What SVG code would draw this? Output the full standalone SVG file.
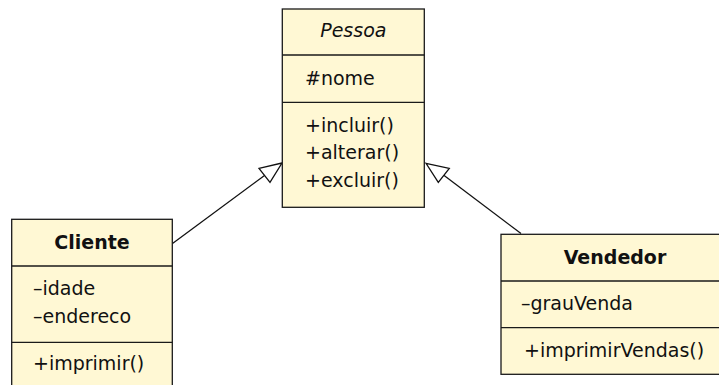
<svg xmlns="http://www.w3.org/2000/svg" width="719" height="385" viewBox="0 0 719 385">
<style>
.box{fill:#FFF8D4;stroke:#1a1a1a;stroke-width:1.3}
.sep{stroke:#1a1a1a;stroke-width:1.3}
text{font-family:"DejaVu Sans","Liberation Sans",sans-serif;font-size:19px;fill:#111}
.t{text-anchor:middle}
.b{font-weight:bold}
.i{font-style:italic}
.edge{fill:none;stroke:#111;stroke-width:1.3}
.head{fill:#fff;stroke:#111;stroke-width:1.3;stroke-linejoin:miter}
</style>
<rect width="719" height="385" fill="#fff"/>
<g id="connectors">
<line class="edge" x1="172.5" y1="243.5" x2="264.5" y2="175.5"/>
<polygon class="head" points="282,163 259,168.3 270,182.3"/>
<line class="edge" x1="521" y1="233.5" x2="443.8" y2="175.3"/>
<polygon class="head" points="426,163.3 449.3,168.3 438.3,182.3"/>
</g>
<g id="Pessoa">
<rect class="box" x="282.3" y="9" width="142" height="198.3"/>
<line class="sep" x1="282.3" y1="55" x2="424.3" y2="55"/>
<line class="sep" x1="282.3" y1="102.3" x2="424.3" y2="102.3"/>
<text class="t i" x="353.3" y="37">Pessoa</text>
<text x="305" y="85">#nome</text>
<text x="305" y="132">+incluir()</text>
<text x="305" y="159.3">+alterar()</text>
<text x="305" y="186.5">+excluir()</text>
</g>
<g id="Cliente">
<rect class="box" x="11.7" y="219.3" width="160.6" height="175"/>
<line class="sep" x1="11.7" y1="266" x2="172.3" y2="266"/>
<line class="sep" x1="11.7" y1="342.3" x2="172.3" y2="342.3"/>
<text class="t b" x="92" y="249.3">Cliente</text>
<text x="33" y="295">–idade</text>
<text x="33" y="322.7">–endereco</text>
<text x="33" y="370">+imprimir()</text>
</g>
<g id="Vendedor">
<rect class="box" x="501" y="234.3" width="222" height="140"/>
<line class="sep" x1="501" y1="281" x2="723" y2="281"/>
<line class="sep" x1="501" y1="327.7" x2="723" y2="327.7"/>
<text class="t b" x="615" y="264">Vendedor</text>
<text x="521" y="310">–grauVenda</text>
<text x="524" y="356.7">+imprimirVendas()</text>
</g>
</svg>
